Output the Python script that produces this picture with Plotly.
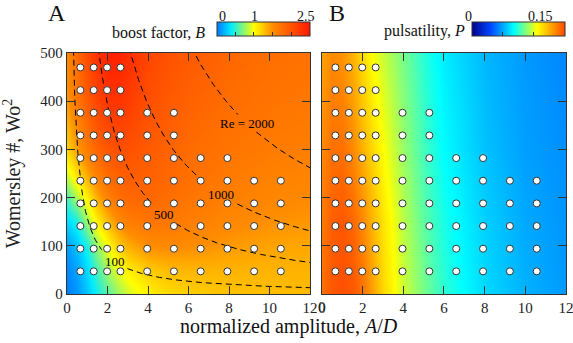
import numpy as np
import plotly.graph_objects as go

# ---------------- data ----------------
GRID_X = [0, 0.5, 1, 1.5, 2, 2.5, 3, 4, 5, 6, 8, 10, 12]
BOOST_Y = [0, 50, 100, 150, 200, 250, 300, 400, 500]
BOOST_Z = [
    [0.02, 0.10, 0.25, 0.42, 0.60, 0.75, 0.88, 1.05, 1.15, 1.20, 1.26, 1.28, 1.30],
    [0.05, 0.15, 0.32, 0.55, 0.78, 0.95, 1.07, 1.22, 1.30, 1.32, 1.33, 1.33, 1.33],
    [0.12, 0.25, 0.45, 0.75, 1.00, 1.20, 1.35, 1.50, 1.52, 1.50, 1.44, 1.40, 1.38],
    [0.30, 0.45, 0.75, 1.05, 1.30, 1.50, 1.62, 1.70, 1.68, 1.62, 1.54, 1.48, 1.45],
    [0.55, 0.80, 1.05, 1.35, 1.60, 1.75, 1.82, 1.82, 1.77, 1.70, 1.62, 1.55, 1.52],
    [0.90, 1.15, 1.38, 1.62, 1.80, 1.88, 1.92, 1.88, 1.82, 1.75, 1.66, 1.60, 1.57],
    [1.20, 1.42, 1.65, 1.85, 1.98, 2.03, 2.02, 1.93, 1.86, 1.79, 1.70, 1.65, 1.62],
    [1.45, 1.68, 1.92, 2.12, 2.25, 2.27, 2.20, 2.03, 1.94, 1.87, 1.77, 1.71, 1.68],
    [1.55, 1.80, 2.08, 2.30, 2.43, 2.43, 2.33, 2.12, 2.02, 1.94, 1.83, 1.76, 1.72],
]
PULS_Y = [0, 150, 300, 500]
PULS_Z = [
    [0.140, 0.146, 0.148, 0.146, 0.139, 0.128, 0.115, 0.098, 0.085, 0.074, 0.060, 0.052, 0.047],
    [0.138, 0.144, 0.146, 0.142, 0.134, 0.123, 0.112, 0.095, 0.081, 0.071, 0.058, 0.050, 0.046],
    [0.134, 0.140, 0.140, 0.134, 0.124, 0.114, 0.105, 0.090, 0.077, 0.067, 0.055, 0.048, 0.045],
    [0.128, 0.134, 0.132, 0.124, 0.113, 0.104, 0.097, 0.085, 0.073, 0.064, 0.053, 0.047, 0.043],
]
SIM_AMP = [0.66, 1.32, 1.98, 2.64, 3.96, 5.28, 6.6, 7.92, 9.24, 10.56]
SIM_WO2 = [47, 94, 141, 188, 235, 282, 329, 376, 423, 470]
SIM_COUNT = [10, 10, 10, 10, 10, 8, 6, 6, 4, 4]

RE_LEVELS = [100, 500, 1000, 2000]
RE_LABELS = ["100", "500", "1000", "Re = 2000"]
RE_LABEL_X = [2.36, 4.78, 7.6, 8.9]
RE_GAP = [0.62, 0.58, 0.8, 0.45]

X_TICKS = [0, 2, 4, 6, 8, 10, 12]
Y_TICKS = [0, 100, 200, 300, 400, 500]

FONT = "Liberation Serif, Times New Roman, serif"
INK = "#333333"

# ---------------- figure ----------------
fig = go.Figure()

boost_scale = [[0.0, "rgb(0,120,255)"], [0.15, "rgb(0,235,255)"], [0.4, "rgb(255,255,0)"],
               [0.6, "rgb(255,140,0)"], [1.0, "rgb(255,25,0)"]]
puls_scale = [[0.0, "rgb(0,0,140)"], [0.2, "rgb(0,70,255)"], [0.45, "rgb(0,255,255)"],
              [0.7, "rgb(255,255,0)"], [0.85, "rgb(255,165,0)"], [1.0, "rgb(255,70,0)"]]

CB_A_X, CB_B_X, CB_LEN, CB_Y = 0.300, 0.811, 0.187, 1.051

def cbar(x0, tv):
    return dict(orientation="h", x=x0, xanchor="left", y=CB_Y, yanchor="bottom",
                len=CB_LEN, lenmode="fraction", thickness=14, thicknessmode="pixels",
                xpad=0, ypad=0, outlinewidth=1, outlinecolor=INK, borderwidth=0,
                tickvals=tv, ticks="inside", ticklen=4, tickcolor=INK,
                showticklabels=False)

fig.add_trace(go.Heatmap(x=GRID_X, y=BOOST_Y, z=BOOST_Z, zmin=0, zmax=2.5,
                         colorscale=boost_scale, zsmooth="best",
                         colorbar=cbar(CB_A_X, [0.5, 1, 1.5, 2]),
                         xaxis="x", yaxis="y", hoverinfo="skip"))
fig.add_trace(go.Heatmap(x=GRID_X, y=PULS_Y, z=PULS_Z, zmin=0, zmax=0.15,
                         colorscale=puls_scale, zsmooth="best",
                         colorbar=cbar(CB_B_X, [0.05, 0.1]),
                         xaxis="x2", yaxis="y2", hoverinfo="skip"))

# Reynolds-number iso-lines: Re = (2/pi) * (A/D) * Wo^2
for lvl, lab, lx, gap in zip(RE_LEVELS, RE_LABELS, RE_LABEL_X, RE_GAP):
    xs = np.linspace(0.05, 12, 800)
    ys = lvl * np.pi / 2 / xs
    ys = np.where(np.abs(xs - lx) < gap, np.nan, ys)
    fig.add_trace(go.Scatter(x=xs, y=ys, mode="lines", xaxis="x", yaxis="y",
                             line=dict(color="black", width=1, dash="6px,4px"),
                             connectgaps=False, hoverinfo="skip", showlegend=False))
    fig.add_annotation(x=lx, y=lvl * np.pi / 2 / lx, xref="x", yref="y", text=lab,
                       showarrow=False, font=dict(family=FONT, size=13, color="black"))

px, py = [], []
for w, n in zip(SIM_WO2, SIM_COUNT):
    for a in SIM_AMP[:n]:
        px.append(a)
        py.append(w)
for xa, ya in (("x", "y"), ("x2", "y2")):
    fig.add_trace(go.Scatter(x=px, y=py, mode="markers", xaxis=xa, yaxis=ya,
                             marker=dict(size=7, color="white", line=dict(color=INK, width=1)),
                             hoverinfo="skip", showlegend=False))

axis_common = dict(ticks="inside", ticklen=8, tickwidth=1.3, tickcolor=INK,
                   showline=True, linecolor=INK, linewidth=1.3, mirror="allticks",
                   showgrid=False, zeroline=False, automargin=False,
                   ticklabeloverflow="allow",
                   tickfont=dict(family=FONT, size=15, color="#222"))

fig.update_layout(
    width=573, height=343,
    margin=dict(l=67, r=7, t=53, b=49, autoexpand=False),
    paper_bgcolor="white", plot_bgcolor="white",
    showlegend=False,
    font=dict(family=FONT, color="#222"),
    xaxis=dict(axis_common, domain=[0, 0.487], range=[0, 12], tickvals=X_TICKS, anchor="y"),
    yaxis=dict(axis_common, range=[0, 500], tickvals=Y_TICKS, anchor="x",
               title=dict(text="Womersley #, Wo<sup>2</sup>", font=dict(family=FONT, size=20),
                          standoff=6)),
    xaxis2=dict(axis_common, domain=[0.511, 1], range=[0, 12], tickvals=X_TICKS,
                anchor="y2"),
    yaxis2=dict(axis_common, range=[0, 500], tickvals=Y_TICKS, anchor="x2",
                showticklabels=False),
)

# first tick label of panel B (Plotly suppresses it at the shared corner)
fig.add_annotation(x=X_TICKS[0], xref="x2", y=-0.054, yref="paper", text=str(X_TICKS[0]),
                   showarrow=False, yanchor="middle",
                   font=dict(family=FONT, size=15, color="#222"))

ann_font = dict(family=FONT, color="#111")
anns = [
    dict(x=-0.042, y=1.166, text="A", font=dict(ann_font, size=24)),
    dict(x=0.542, y=1.166, text="B", font=dict(ann_font, size=24)),
    dict(x=0.2806, y=1.083, text="boost factor, <i>B</i>", xanchor="right",
         font=dict(ann_font, size=16)),
    dict(x=0.801, y=1.09, text="pulsatility, <i>P</i>", xanchor="right",
         font=dict(ann_font, size=16)),
    dict(x=0.445, y=-0.135, text="normalized amplitude, <i>A</i>/<i>D</i>",
         font=dict(ann_font, size=20)),
]
for v, t, sh in ((0, "0", 0), (1, "1", 0), (2.5, "2.5", -4)):
    anns.append(dict(x=CB_A_X + CB_LEN * v / 2.5, y=1.151, text=t, xshift=sh,
                     font=dict(ann_font, size=14)))
for v, t, sh in ((0, "0", 2), (0.15, "0.15", -10)):
    anns.append(dict(x=CB_B_X + CB_LEN * v / 0.15, y=1.151, text=t, xshift=sh,
                     font=dict(ann_font, size=14)))
for a in anns:
    fig.add_annotation(xref="paper", yref="paper", showarrow=False, yanchor="middle", **a)

fig.write_html("out.html", config={"displayModeBar": False},
               post_script="document.body.style.margin='0';document.body.style.padding='0';")
